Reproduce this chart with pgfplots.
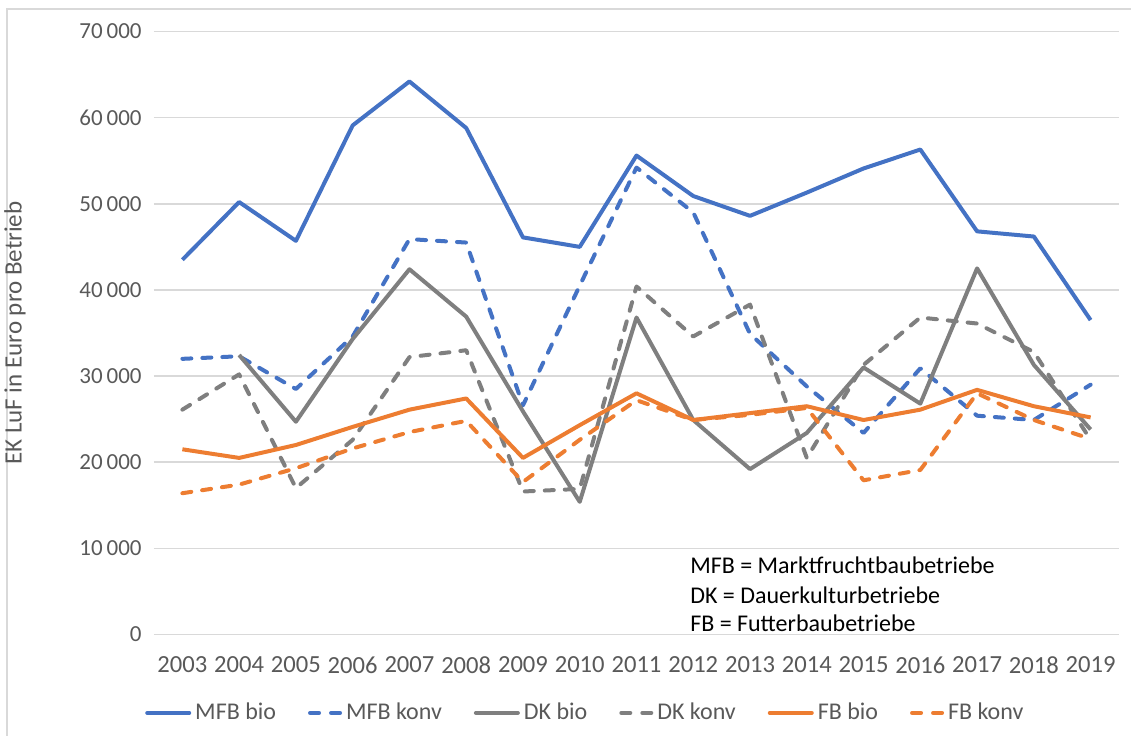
\documentclass[border=0pt]{standalone}
\usepackage{pgfplots}
\pgfplotsset{compat=1.18}
\usepackage{fontspec}
\setmainfont{Carlito}
\definecolor{cblue}{HTML}{4472C4}
\definecolor{corange}{HTML}{ED7D31}
\definecolor{cgray}{HTML}{7F7F7F}
\definecolor{ctext}{HTML}{595959}
\definecolor{cgrid}{HTML}{D9D9D9}
\begin{document}
\begin{tikzpicture}
\path[use as bounding box] (-77pt,-50.25pt) rectangle (488.5pt,317.25pt);
\draw[cgrid, line width=0.75pt] (-73.5pt,-60pt) -- (-73.5pt,312.75pt) -- (500pt,312.75pt);
\begin{axis}[
  at={(0pt,0pt)}, anchor=south west,
  scale only axis, width=482.5pt, height=301.5pt,
  xmin=2002.5, xmax=2019.5, ymin=0, ymax=70000,
  scaled y ticks=false,
  xtick={2003,2004,2005,2006,2007,2008,2009,2010,2011,2012,2013,2014,2015,2016,2017,2018,2019},
  xticklabels={2003,2004,2005,2006,2007,2008,2009,2010,2011,2012,2013,2014,2015,2016,2017,2018,2019},
  ytick={0,10000,20000,30000,40000,50000,60000,70000},
  yticklabels={0,10\,000,20\,000,30\,000,40\,000,50\,000,60\,000,70\,000},
  axis line style={draw=none}, tick style={draw=none},
  ymajorgrids, major grid style={cgrid, line width=0.75pt},
  xticklabel style={font=\fontsize{12.3}{14}\selectfont, text=ctext, anchor=north, inner sep=0pt, yshift=-11pt},
  yticklabel style={font=\fontsize{11.5}{13}\selectfont, text=ctext, anchor=east, inner sep=0pt, xshift=-6pt},
  ylabel={EK LuF in Euro pro Betrieb},
  ylabel style={font=\fontsize{12.5}{14}\selectfont, text=ctext, at={(axis description cs:-0.144,0.5)}, anchor=center},
  legend columns=6,
  legend style={draw=none, fill=none, font=\fontsize{12}{14}\selectfont, text=ctext,
    at={(axis description cs:0.448,-0.130)}, anchor=center,
    /tikz/every even column/.append style={column sep=14pt}},
  legend image code/.code={\draw[#1, line cap=round] (0pt,0pt) -- (21pt,0pt);},
  every axis plot/.append style={line width=2pt, line join=round},
  dashleg/.style={legend image code/.code={\draw[##1, line cap=round, dash pattern=on 4.5pt off 6pt] (1pt,0pt) -- (16pt,0pt);}},
]
\addplot[cblue] coordinates {(2003,43500)(2004,50200)(2005,45700)(2006,59100)(2007,64200)(2008,58800)(2009,46100)(2010,45000)(2011,55600)(2012,50900)(2013,48600)(2014,51300)(2015,54100)(2016,56300)(2017,46800)(2018,46200)(2019,36500)};
\addlegendentry{MFB bio}
\addplot[cblue, dash pattern=on 4.5pt off 5.5pt, line cap=round, dashleg] coordinates {(2003,32000)(2004,32300)(2005,28500)(2006,34600)(2007,45900)(2008,45500)(2009,26600)(2010,40500)(2011,54200)(2012,49000)(2013,34900)(2014,28800)(2015,23400)(2016,30900)(2017,25400)(2018,24900)(2019,29000)};
\addlegendentry{MFB konv}
\addplot[cgray] coordinates {(2004,32450)(2005,24700)(2006,34300)(2007,42400)(2008,36900)(2009,25900)(2010,15400)(2011,36800)(2012,24900)(2013,19200)(2014,23400)(2015,31000)(2016,26800)(2017,42500)(2018,31300)(2019,23800)};
\addlegendentry{DK bio}
\addplot[cgray, dash pattern=on 4.5pt off 5.5pt, line cap=round, dashleg] coordinates {(2003,26100)(2004,30200)(2005,17000)(2006,22600)(2007,32200)(2008,33000)(2009,16600)(2010,16900)(2011,40400)(2012,34600)(2013,38300)(2014,20500)(2015,31300)(2016,36800)(2017,36100)(2018,32800)(2019,22600)};
\addlegendentry{DK konv}
\addplot[corange] coordinates {(2003,21500)(2004,20500)(2005,22000)(2006,24100)(2007,26100)(2008,27400)(2009,20500)(2010,24300)(2011,28000)(2012,24900)(2013,25700)(2014,26500)(2015,24900)(2016,26100)(2017,28400)(2018,26500)(2019,25200)};
\addlegendentry{FB bio}
\addplot[corange, dash pattern=on 4.5pt off 5.5pt, line cap=round, dashleg] coordinates {(2003,16400)(2004,17400)(2005,19300)(2006,21600)(2007,23500)(2008,24800)(2009,17700)(2010,22600)(2011,27200)(2012,24900)(2013,25500)(2014,26300)(2015,17900)(2016,19100)(2017,28000)(2018,24900)(2019,22700)};
\addlegendentry{FB konv}
\node[anchor=west, inner sep=0pt, font=\fontsize{12}{14}\selectfont, text=black] at (axis cs:2011.94,8070) {MFB = Marktfruchtbaubetriebe};
\node[anchor=west, inner sep=0pt, font=\fontsize{12}{14}\selectfont, text=black] at (axis cs:2011.94,4590) {DK = Dauerkulturbetriebe};
\node[anchor=west, inner sep=0pt, font=\fontsize{12}{14}\selectfont, text=black] at (axis cs:2011.94,1340) {FB = Futterbaubetriebe};
\end{axis}
\end{tikzpicture}
\end{document}
